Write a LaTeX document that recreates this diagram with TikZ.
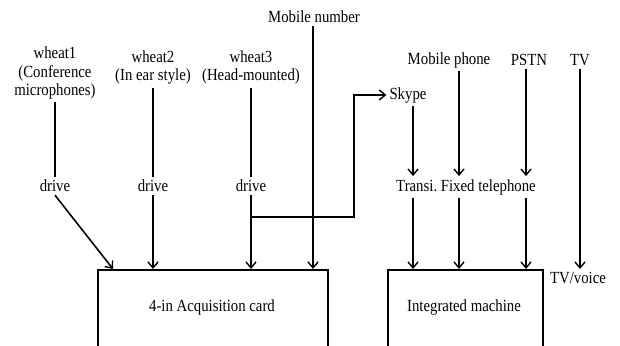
\documentclass[tikz,border=0pt]{standalone}
\usepackage{fontspec}
\setmainfont[FakeStretch=0.87]{Liberation Serif}
\usetikzlibrary{arrows.meta,calc}
\frenchspacing
\begin{document}
\begin{tikzpicture}[x=1pt,y=-1pt,
  font=\fontsize{17}{18.5}\selectfont,
  lbl/.style={inner sep=3pt, align=center},
  ln/.style={line width=1.6pt},
  arr/.style={ln,-{Straight Barb[length=6pt,width=10pt,line width=1.4pt]}},
  boxstyle/.style={draw, line width=1.6pt, minimum height=110pt, anchor=north west, inner sep=0pt}]
\useasboundingbox (0,0) rectangle (620,345);
\clip (0,0) rectangle (620,345);
% top labels
\node[lbl] (w1) at (55,73) {wheat1\\(Conference\\microphones)};
\node[lbl] (w2) at (153,67.5) {wheat2\\(In ear style)};
\node[lbl] (w3) at (251,67.5) {wheat3\\(Head-mounted)};
\node[lbl] (mob) at (314,17) {Mobile number};
\node[lbl] (skype) at (408,95) {Skype};
\node[lbl] (mp) at (449,60) {Mobile phone};
\node[lbl] (pstn) at (529,60) {PSTN};
\node[lbl] (tv) at (580,60) {TV};
% middle labels
\node[lbl] (d1) at (55,186) {drive};
\node[lbl] (d2) at (153,186) {drive};
\node[lbl] (d3) at (251,186) {drive};
\node[lbl] (transi) at (466,187) {Transi. Fixed telephone};
\node[lbl] (tvv) at (578,278) {TV/voice};
% boxes
\node[boxstyle, minimum width=230pt] (b1) at (97,269) {};
\node[boxstyle, minimum width=155pt] (b2) at (387,269) {};
\node[lbl] (card) at (212,307) {4-in Acquisition card};
\node[lbl] (integ) at (464,307) {Integrated machine};
% connectors: microphones to drives
\draw[ln] (w1.south) -- (d1.north);
\draw[ln] (w2.south) -- (d2.north);
\draw[ln] (w3.south) -- (d3.north);
% drives to card
\coordinate (t1) at ($(b1.north west)+(16,0)$);
\draw[arr] (d1.south) -- (t1);
\draw[arr] (d2.south) -- (d2.south |- b1.north);
\draw[arr] (d3.south) -- (d3.south |- b1.north);
\coordinate (mobx) at ($(mob.south)+(-1,0)$);
\draw[arr] (mobx) -- (mobx |- b1.north);
% branch to Skype
\coordinate (br) at ($(d3.south)+(0,22)$);
\draw[arr] (br) -- ++(103,0) |- (skype.west);
% right side
\coordinate (sk) at ($(skype.south)+(5,0)$);
\coordinate (mpx) at ($(mp.south)+(10,0)$);
\coordinate (psx) at ($(pstn.south)+(-3,0)$);
\draw[arr] (sk) -- (sk |- transi.north);
\draw[arr] (mpx) -- (mpx |- transi.north);
\draw[arr] (psx) -- (psx |- transi.north);
\draw[arr] (sk |- transi.south) -- (sk |- b2.north);
\draw[arr] (mpx |- transi.south) -- (mpx |- b2.north);
\draw[arr] (psx |- transi.south) -- (psx |- b2.north);
\draw[arr] (tv.south) -- (tv.south |- b2.north);
\end{tikzpicture}
\end{document}
